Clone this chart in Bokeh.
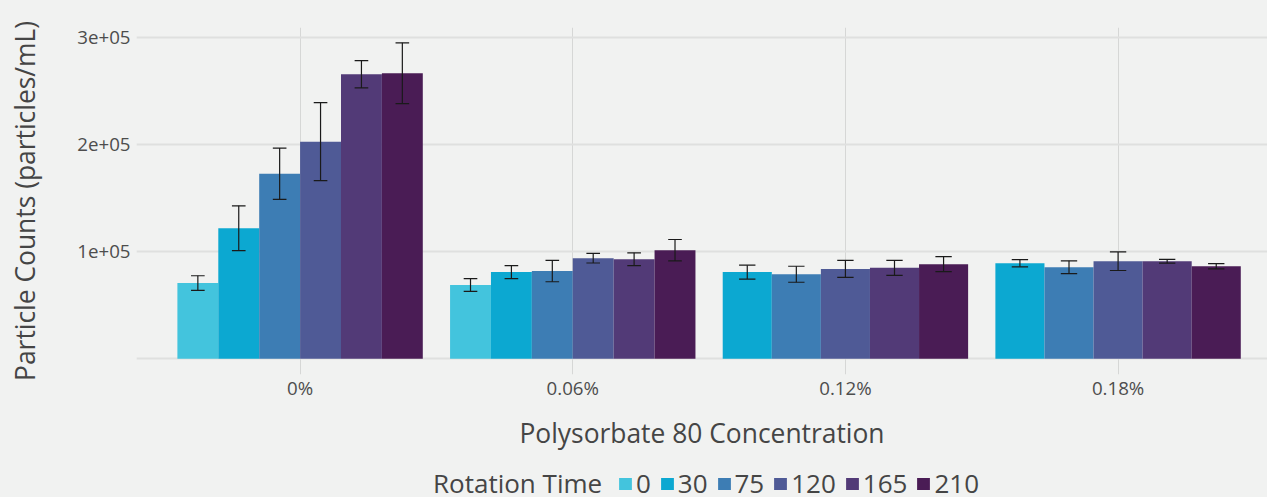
from bokeh.plotting import figure
from bokeh.layouts import column
from bokeh.models import (ColumnDataSource, Range1d, FixedTicker, Legend, LegendItem)
from bokeh.embed import file_html
from bokeh.resources import INLINE

# ---------------- data ----------------
concentrations = ["0%", "0.06%", "0.12%", "0.18%"]
rotation_times = ["0", "30", "75", "120", "165", "210"]

mean_0 = [70800, 69000, None, None]
mean_30 = [122000, 81000, 81000, 89300]
mean_75 = [173000, 82000, 79000, 85600]
mean_120 = [203000, 94000, 84000, 91200]
mean_165 = [266000, 93000, 85000, 91200]
mean_210 = [267000, 101500, 88400, 86500]

err_0 = [6800, 6000, None, None]
err_30 = [21000, 6000, 6500, 3400]
err_75 = [24000, 10000, 7500, 6000]
err_120 = [36500, 4500, 8000, 8700]
err_165 = [12800, 6000, 7000, 1800]
err_210 = [28400, 10000, 7000, 2500]

colors = ["#43c4dd", "#0ca8d1", "#3d7db4", "#4f5a96", "#523a77", "#4a1c55"]

y_tick_values = [0, 100000, 200000, 300000]
y_tick_labels = ["", "1e+05", "2e+05", "3e+05"]

legend_title = "Rotation Time"

means = [mean_0, mean_30, mean_75, mean_120, mean_165, mean_210]
errs = [err_0, err_30, err_75, err_120, err_165, err_210]

# ---------------- main figure ----------------
BG = "#f1f2f1"
TXT = "#4d4d4d"
TITLE = "#454545"
FONT = "Open Sans"

p = figure(width=1267, height=453, output_backend="svg", toolbar_location=None,
           x_range=Range1d(0.4, 4.548), y_range=Range1d(-14750, 309750),
           min_border_left=136, min_border_right=0, min_border_top=27,
           min_border_bottom=78)
p.background_fill_color = BG
p.border_fill_color = BG
p.outline_line_color = None

# dodge: bars fill 0.9 of each category, split among series present there
group_width = 0.9
counts = [sum(1 for m in means if m[j] is not None) for j in range(len(concentrations))]
slot = [0] * len(concentrations)

sources = []
for i, t in enumerate(rotation_times):
    xs, tops, widths, lo, hi, cx0, cx1 = [], [], [], [], [], [], []
    for j in range(len(concentrations)):
        m = means[i][j]
        if m is None:
            continue
        w = group_width / counts[j]
        x = (j + 1) - group_width / 2 + (slot[j] + 0.5) * w
        slot[j] += 1
        e = errs[i][j]
        xs.append(x); tops.append(m); widths.append(w)
        lo.append(m - e); hi.append(m + e)
        cx0.append(x - w / 6); cx1.append(x + w / 6)
    src = ColumnDataSource(dict(x=xs, top=tops, w=widths, lo=lo, hi=hi, cx0=cx0, cx1=cx1))
    sources.append(src)
    p.vbar(x="x", top="top", bottom=0, width="w", source=src,
           fill_color=colors[i], line_color=None)
    p.segment(x0="x", x1="x", y0="lo", y1="hi", source=src, line_color="#1a1a1a", line_width=1.2)
    p.segment(x0="cx0", x1="cx1", y0="lo", y1="lo", source=src, line_color="#1a1a1a", line_width=1.2)
    p.segment(x0="cx0", x1="cx1", y0="hi", y1="hi", source=src, line_color="#1a1a1a", line_width=1.2)

p.xaxis.ticker = FixedTicker(ticks=[1, 2, 3, 4])
p.xaxis.major_label_overrides = {k + 1: c for k, c in enumerate(concentrations)}
p.yaxis.ticker = FixedTicker(ticks=y_tick_values)
p.yaxis.major_label_overrides = {v: l for v, l in zip(y_tick_values, y_tick_labels)}

for ax in (p.xaxis, p.yaxis):
    ax.axis_line_color = None
    ax.major_tick_line_color = None
    ax.minor_tick_line_color = None
    ax.major_tick_out = 0
    ax.major_tick_in = 0
    ax.minor_tick_out = 0
    ax.minor_tick_in = 0
    ax.major_label_text_font = FONT
    ax.major_label_text_font_size = "18.7px"
    ax.major_label_text_color = TXT
    ax.axis_label_text_font = FONT
    ax.axis_label_text_font_size = "26.4px"
    ax.axis_label_text_font_style = "normal"
    ax.axis_label_text_color = TITLE

p.xaxis.axis_label = "Polysorbate 80 Concentration"
p.yaxis.axis_label = "Particle Counts (particles/mL)"
p.xaxis.major_label_standoff = 0
p.yaxis.major_label_standoff = 6
p.xaxis.axis_label_standoff = 12
p.yaxis.axis_label_standoff = 31

p.xgrid.ticker = FixedTicker(ticks=[1, 2, 3, 4])
p.ygrid.ticker = FixedTicker(ticks=y_tick_values)
p.xgrid.grid_line_color = "#d6d7d6"
p.xgrid.grid_line_width = 1
p.ygrid.grid_line_color = "#dfe0df"
p.ygrid.grid_line_width = 1.8

# ---------------- legend strip ----------------
# proxy renderers share the bar data but sit outside this strip's visible range
lg = figure(width=1267, height=44, output_backend="svg", toolbar_location=None,
            x_range=Range1d(-3, -2), y_range=Range1d(-3, -2),
            x_axis_type=None, y_axis_type=None, min_border=0)
lg.background_fill_color = None
lg.border_fill_color = BG
lg.outline_line_color = None
lg.grid.visible = False

title_r = lg.vbar(x="x", top="top", width="w", source=sources[1],
                  fill_alpha=0, line_alpha=0)
items = [LegendItem(label=legend_title + "\u00a0", renderers=[title_r])]
for i, t in enumerate(rotation_times):
    r = lg.vbar(x="x", top="top", width="w", source=sources[i],
                fill_color=colors[i], line_color=None)
    items.append(LegendItem(label=t, renderers=[r]))

legend = Legend(items=items, orientation="horizontal", location=(278, -4),
                label_text_font=FONT, label_text_font_size="26px",
                label_text_color=TITLE,
                glyph_width=16, glyph_height=15, label_standoff=3, spacing=8,
                label_width=0, label_height=24,
                background_fill_alpha=0, border_line_alpha=0,
                margin=0, padding=0)
lg.add_layout(legend)

layout = column(p, lg, spacing=0, styles={"background-color": BG})
open("out.html", "w").write(file_html(layout, INLINE))
